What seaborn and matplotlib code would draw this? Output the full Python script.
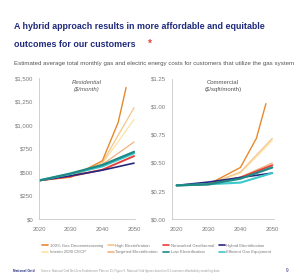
import matplotlib
matplotlib.use("Agg")
import matplotlib.pyplot as plt
import seaborn as sns
import pandas as pd
from matplotlib.lines import Line2D

sns.set_style("white")
FAM = ["Liberation Sans Narrow", "DejaVu Sans Condensed", "Liberation Sans", "DejaVu Sans"]
plt.rcParams["font.family"] = FAM

# ---- data ----
series = ["100% Gas Decommissioning", "High Electrification", "Networked Geothermal",
          "Hybrid Electrification", "Interim 2030 CECP", "Targeted Electrification",
          "Low Electrification", "Efficient Gas Equipment"]
colors = ["#E8892B", "#F7C48C", "#E8413C", "#26287E", "#FBE3A0", "#F3B27E",
          "#1E8A86", "#3CC8CC"]
widths = [1.0, 0.9, 1.4, 1.2, 0.9, 0.9, 1.6, 1.5]

res_years = {
    "100% Gas Decommissioning": [2020, 2030, 2040, 2045, 2047.5],
    "High Electrification": [2020, 2030, 2040, 2050],
    "Networked Geothermal": [2020, 2030, 2040, 2050],
    "Hybrid Electrification": [2020, 2030, 2040, 2050],
    "Interim 2030 CECP": [2020, 2030, 2040, 2050],
    "Targeted Electrification": [2020, 2030, 2040, 2050],
    "Low Electrification": [2020, 2030, 2040, 2050],
    "Efficient Gas Equipment": [2020, 2030, 2040, 2050],
}
res_values = {
    "100% Gas Decommissioning": [410, 445, 620, 1030, 1400],
    "High Electrification": [410, 450, 600, 1185],
    "Networked Geothermal": [410, 455, 525, 670],
    "Hybrid Electrification": [410, 460, 520, 595],
    "Interim 2030 CECP": [410, 455, 590, 1060],
    "Targeted Electrification": [410, 455, 580, 820],
    "Low Electrification": [410, 485, 575, 715],
    "Efficient Gas Equipment": [410, 480, 560, 700],
}
com_years = {
    "100% Gas Decommissioning": [2020, 2030, 2040, 2045, 2048],
    "High Electrification": [2020, 2030, 2040, 2050],
    "Networked Geothermal": [2020, 2030, 2040, 2050],
    "Hybrid Electrification": [2020, 2030, 2040, 2050],
    "Interim 2030 CECP": [2020, 2030, 2040, 2050],
    "Targeted Electrification": [2020, 2030, 2040, 2050],
    "Low Electrification": [2020, 2030, 2040, 2050],
    "Efficient Gas Equipment": [2020, 2030, 2040, 2050],
}
com_values = {
    "100% Gas Decommissioning": [0.30, 0.31, 0.46, 0.72, 1.03],
    "High Electrification": [0.30, 0.31, 0.42, 0.72],
    "Networked Geothermal": [0.30, 0.31, 0.37, 0.48],
    "Hybrid Electrification": [0.30, 0.33, 0.37, 0.41],
    "Interim 2030 CECP": [0.30, 0.31, 0.41, 0.70],
    "Targeted Electrification": [0.30, 0.31, 0.375, 0.50],
    "Low Electrification": [0.30, 0.31, 0.36, 0.46],
    "Efficient Gas Equipment": [0.30, 0.31, 0.325, 0.41],
}
res_ticks = [0, 250, 500, 750, 1000, 1250, 1500]
res_ticklabels = ["$0", "$250", "$500", "$750", "$1,000", "$1,250", "$1,500"]
com_ticks = [0, 0.25, 0.5, 0.75, 1.0, 1.25]
com_ticklabels = ["$0.00", "$0.25", "$0.50", "$0.75", "$1.00", "$1.25"]
x_ticks = [2020, 2030, 2040, 2050]

draw_order = [4, 1, 5, 0, 2, 3, 7, 6]

W, H = 300, 279
fig = plt.figure(figsize=(3.0, 2.79), dpi=100)
fig.patch.set_facecolor("white")
renderer = fig.canvas.get_renderer()

def fit(t, target_px, max_size=None):
    w = t.get_window_extent(renderer).width
    s = t.get_fontsize() * target_px / w
    if max_size is not None:
        s = min(s, max_size)
    t.set_fontsize(s)
    return t

ax1 = fig.add_axes([0.13, 0.215, 0.32, 0.505])
ax2 = fig.add_axes([0.573, 0.215, 0.34, 0.502])

def draw(ax, yrs, vals):
    for i in draw_order:
        s = series[i]
        df = pd.DataFrame({"year": yrs[s], "value": vals[s]})
        sns.lineplot(data=df, x="year", y="value", ax=ax, color=colors[i],
                     lw=widths[i], legend=False)

draw(ax1, res_years, res_values)
draw(ax2, com_years, com_values)

ax1.set_xlim(2020, 2050.3)
ax1.set_ylim(0, 1500)
ax1.set_yticks(res_ticks)
ax1.set_yticklabels(res_ticklabels)
ax2.set_xlim(2018.5, 2050.5)
ax2.set_ylim(0, 1.25)
ax2.set_yticks(com_ticks)
ax2.set_yticklabels(com_ticklabels)

for ax in (ax1, ax2):
    ax.set_xticks(x_ticks)
    ax.set_xticklabels([str(t) for t in x_ticks])
    ax.set_xlabel("")
    ax.set_ylabel("")
    for sp in ("top", "right"):
        ax.spines[sp].set_visible(False)
    for sp in ("left", "bottom"):
        ax.spines[sp].set_color("#C8C8C8")
        ax.spines[sp].set_linewidth(0.6)
    ax.tick_params(axis="both", labelsize=4.3, colors="#C8C8C8",
                   labelcolor="#7A7A7A", length=2, width=0.5, pad=2)
    ax.tick_params(axis="x", pad=4)
    ax.grid(False)

ax1.text(0.5, 0.985, "Residential\n($/month)", transform=ax1.transAxes,
         ha="center", va="top", fontsize=4.3, color="#555555", style="italic",
         linespacing=1.5)
ax2.text(0.5, 0.995, "Commercial\n($/sqft/month)", transform=ax2.transAxes,
         ha="center", va="top", fontsize=4.3, color="#555555",
         linespacing=1.5)

# legend (rows read left-to-right as in reference)
handles = [Line2D([0], [0], color=colors[i], lw=1.2) for i in range(8)]
labels = list(series)
h_cm, l_cm = [], []
for c in range(4):
    for r in range(2):
        idx = r * 4 + c
        h_cm.append(handles[idx])
        l_cm.append(labels[idx])

def make_legend(fs):
    return fig.legend(h_cm, l_cm, ncol=4, loc="center", bbox_to_anchor=(0.523, 0.107),
                      frameon=False, fontsize=fs, handlelength=1.3, handletextpad=0.4,
                      columnspacing=1.2, labelspacing=0.55, labelcolor="#7A7A7A")

leg = make_legend(3.8)
lw_px = leg.get_window_extent(renderer).width
target = 240.0
if lw_px > target:
    leg.remove()
    leg = make_legend(3.8 * target / lw_px)

# title
navy = "#1F2A7A"
t1 = fig.text(14 / W, 1 - 29 / H, "A hybrid approach results in more affordable and equitable",
              fontsize=9.3, color=navy, fontweight="bold", ha="left", va="baseline")
fit(t1, 248, max_size=9.5)
t2 = fig.text(14 / W, 1 - 47 / H, "outcomes for our customers",
              fontsize=t1.get_fontsize(), color=navy, fontweight="bold",
              ha="left", va="baseline")
x_end = t2.get_window_extent(renderer).x1
fig.text((x_end + 14) / W, 1 - 44 / H, "*", fontsize=7, color="#E8413C",
         fontweight="bold", ha="center", va="center")
st = fig.text(14 / W, 1 - 65 / H,
              "Estimated average total monthly gas and electric energy costs for customers that utilize the gas system",
              fontsize=4.6, color="#555555", ha="left", va="baseline")
fit(st, 278, max_size=5.0)

# footer
ng = fig.text(13 / W, 1 - 271 / H, "National Grid", fontsize=3.3, color=navy,
              fontweight="bold", ha="left", va="center")
fit(ng, 22)
src = fig.text(41 / W, 1 - 271 / H,
               "Source: National Grid Net Zero Enablement Plan on 15; Figure 6. National Grid figures based on EJ customer affordability modeling data",
               fontsize=2.0, color="#9A9A9A", ha="left", va="center")
fit(src, 172)
fig.text(287 / W, 1 - 271 / H, "9", fontsize=3.3, color=navy,
         ha="center", va="center")

fig.savefig("out.png", dpi=100, facecolor="white")
